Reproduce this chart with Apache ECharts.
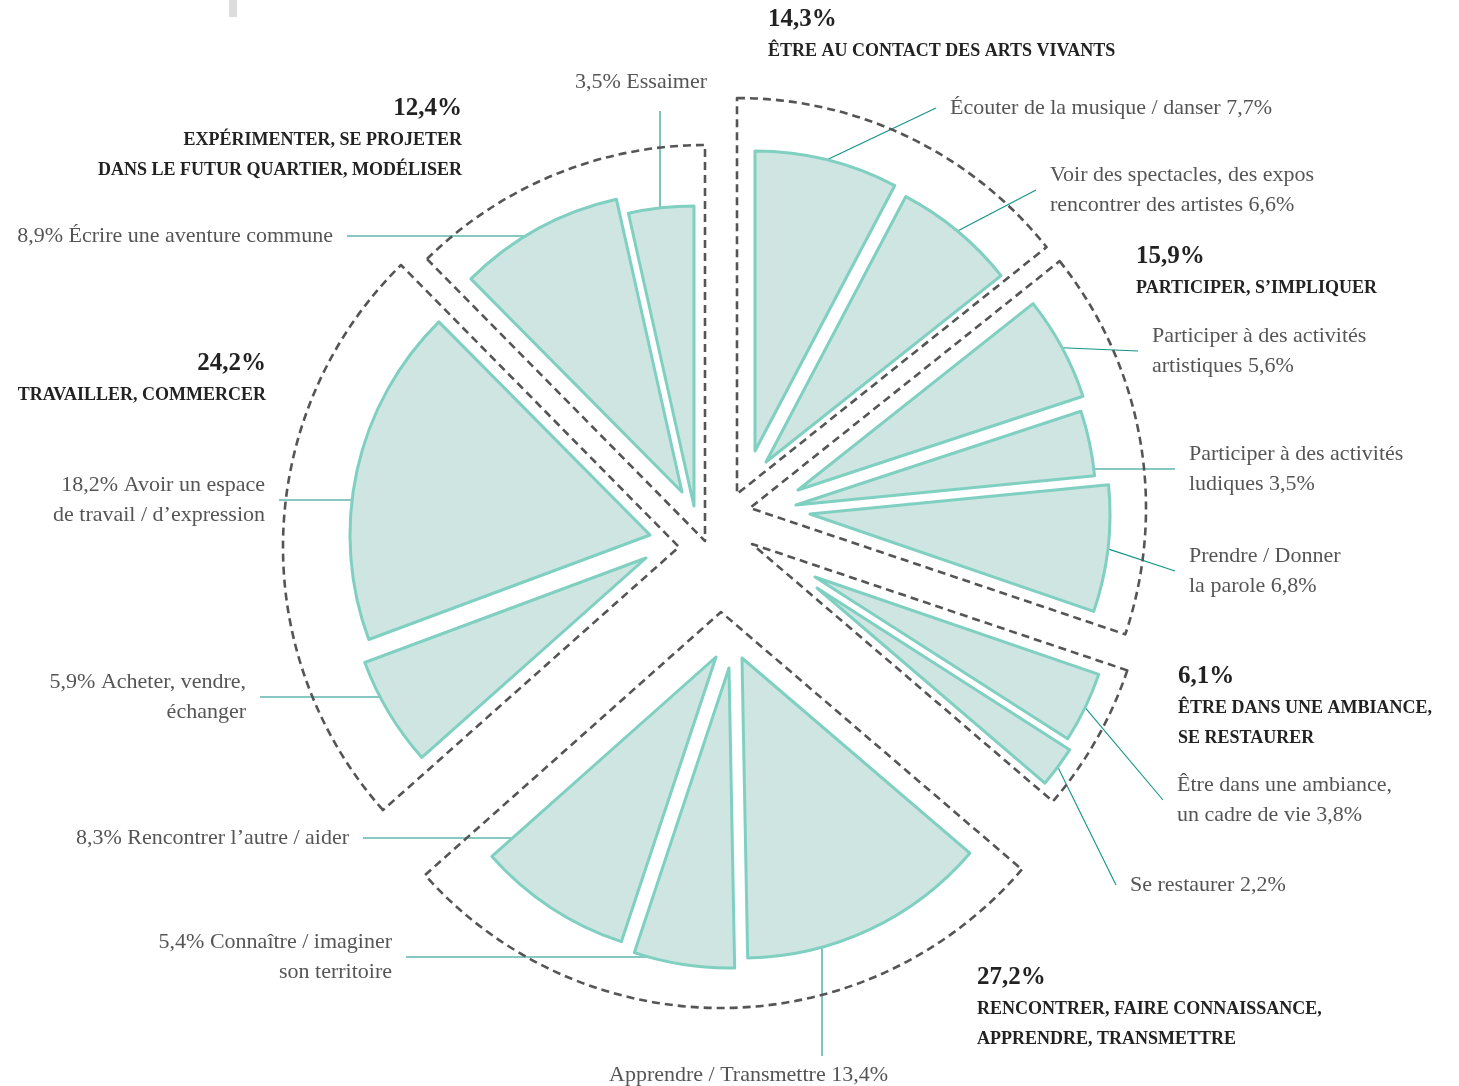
<!DOCTYPE html>
<html>
<head>
<meta charset="utf-8">
<script src="https://cdn.jsdelivr.net/npm/echarts@6/dist/echarts.min.js"></script>
<style>
  html, body { margin: 0; padding: 0; background: #fff; }
  #chart { width: 1459px; height: 1086px; }
</style>
</head>
<body>
<div id="chart"></div>
<script>
// groups (outer dashed sectors), clockwise from 12 o'clock
const groupValues = [14.3, 15.9, 6.1, 27.2, 24.2, 12.4];
const groupTitles = [
  'ÊTRE AU CONTACT DES ARTS VIVANTS',
  'PARTICIPER, S’IMPLIQUER',
  'ÊTRE DANS UNE AMBIANCE,\nSE RESTAURER',
  'RENCONTRER, FAIRE CONNAISSANCE,\nAPPRENDRE, TRANSMETTRE',
  'TRAVAILLER, COMMERCER',
  'EXPÉRIMENTER, SE PROJETER\nDANS LE FUTUR QUARTIER, MODÉLISER'
];

// detail items (inner filled sectors), same order
const itemNames = [
  'Écouter de la musique / danser',
  'Voir des spectacles, des expos\nrencontrer des artistes',
  'Participer à des activités\nartistiques',
  'Participer à des activités\nludiques',
  'Prendre / Donner\nla parole',
  'Être dans une ambiance,\nun cadre de vie',
  'Se restaurer',
  'Apprendre / Transmettre',
  'Connaître / imaginer\nson territoire',
  'Rencontrer l’autre / aider',
  'Acheter, vendre,\néchanger',
  'Avoir un espace\nde travail / d’expression',
  'Écrire une aventure commune',
  'Essaimer'
];
const itemValues = [7.7, 6.6, 5.6, 3.5, 6.8, 3.8, 2.2, 13.4, 5.4, 8.3, 5.9, 18.2, 8.9, 3.5];
const valueFirst = [false, false, false, false, false, false, false, false, true, true, true, true, true, true];

// layout: apex of each exploded sector and label anchors
const groupCenters = [[737, 494], [750, 508], [752, 544], [721, 612], [679, 547], [705, 541]];
const itemCenters = [
  [755, 451], [766, 462], [798, 490], [796, 505], [810, 514], [815, 577], [817, 588],
  [742, 658], [729, 668], [716, 657], [646, 558], [650, 535], [682, 492], [694, 506]
];
const groupLabelPos = [
  { x: 768, y: 3, align: 'left' },
  { x: 1136, y: 240, align: 'left' },
  { x: 1178, y: 660, align: 'left' },
  { x: 977, y: 961, align: 'left' },
  { x: 266, y: 347, align: 'right' },
  { x: 462, y: 92, align: 'right' }
];
const P = [14, 14, 14, 14];
const itemLabelPos = [
  { x: 936, y: 108, align: 'left', len2: 0, pad: P },
  { x: 1036, y: 190, align: 'left', len2: 0, pad: P },
  { x: 1138, y: 351, align: 'left', len2: 0, pad: P },
  { x: 1175, y: 469, align: 'left', len2: 81, pad: P },
  { x: 1175, y: 571, align: 'left', len2: 0, pad: P },
  { x: 1163, y: 800, align: 'left', len2: 0, pad: P },
  { x: 1116, y: 885, align: 'left', len2: 0, pad: P },
  { x: 822, y: 1075, align: 'center', len2: 109, pad: [4, 161, 4, 14], w: 282 },
  { x: 406, y: 957, align: 'right', len2: 242, pad: P },
  { x: 363, y: 838, align: 'right', len2: 151, pad: P },
  { x: 260, y: 697, align: 'right', len2: 120, pad: P },
  { x: 279, y: 500, align: 'right', len2: 73, pad: P },
  { x: 347, y: 236, align: 'right', len2: 180, pad: P },
  { x: 660, y: 82, align: 'center', len2: 97, pad: [14, 52, 14, 14], w: 132 }
];

const FONT = '"Liberation Serif", serif';
const fmt = v => String(v).replace('.', ',') + '%';
const itemLabel = i => {
  const v = fmt(itemValues[i]);
  return valueFirst[i] ? v + ' ' + itemNames[i] : itemNames[i] + ' ' + v;
};
const hidden = v => ({
  value: v,
  itemStyle: { color: 'rgba(0,0,0,0)', borderWidth: 0 },
  label: { show: false },
  labelLine: { show: false }
});

const chart = echarts.init(document.getElementById('chart'));
const series = [];

groupValues.forEach((gv, g) => {
  series.push({
    type: 'pie',
    silent: true,
    center: groupCenters[g],
    radius: [0, 396],
    startAngle: 90,
    clockwise: true,
    avoidLabelOverlap: false,
    label: { show: false },
    labelLine: { show: false },
    labelLayout: {
      x: groupLabelPos[g].x,
      y: groupLabelPos[g].y,
      align: groupLabelPos[g].align,
      verticalAlign: 'top',
      hideOverlap: false
    },
    data: groupValues.map((v, k) => k !== g ? hidden(v) : {
      value: v,
      name: groupTitles[k],
      itemStyle: {
        color: 'rgba(0,0,0,0)',
        borderColor: '#555',
        borderWidth: 2.6,
        borderType: [8, 5],
        borderJoin: 'round'
      },
      label: {
        show: true,
        position: 'outside',
        overflow: 'none',
        formatter: () => '{v|' + fmt(v) + '}\n' +
          groupTitles[k].split('\n').map(s => '{t|' + s + '}').join('\n'),
        rich: {
          v: { fontFamily: FONT, fontSize: 25, fontWeight: 'bold', color: '#222', lineHeight: 33 },
          t: { fontFamily: FONT, fontSize: 18, fontWeight: 'bold', color: '#222', lineHeight: 30 }
        }
      },
      labelLine: { show: false }
    })
  });
});

itemValues.forEach((iv, i) => {
  const lp = itemLabelPos[i];
  const label = {
    show: true,
    position: 'outside',
    overflow: 'none',
    formatter: '{b}',
    fontFamily: FONT,
    fontSize: 22,
    lineHeight: 30,
    color: '#555',
    padding: lp.pad
  };
  if (lp.w) label.width = lp.w;
  series.push({
    type: 'pie',
    silent: true,
    center: itemCenters[i],
    radius: [0, 300],
    startAngle: 90,
    clockwise: true,
    avoidLabelOverlap: false,
    label: { show: false },
    labelLine: { show: false },
    labelLayout: { x: lp.x, y: lp.y, align: lp.align, verticalAlign: 'middle', hideOverlap: false },
    data: itemValues.map((v, k) => k !== i ? hidden(v) : {
      value: v,
      name: itemLabel(k),
      itemStyle: {
        color: '#cfe5e1',
        borderColor: '#80d0c1',
        borderWidth: 3,
        borderJoin: 'round'
      },
      label: label,
      labelLine: {
        show: true,
        length: 10,
        length2: lp.len2,
        lineStyle: { color: '#119485', width: 1.1 }
      }
    })
  });
});

chart.setOption({
  animation: false,
  backgroundColor: '#fff',
  graphic: [{
    type: 'rect',
    shape: { x: 229, y: 0, width: 8, height: 17 },
    style: { fill: '#dcdcdc' },
    silent: true
  }],
  series: series
});

window.addEventListener('resize', () => chart.resize());
</script>
</body>
</html>
